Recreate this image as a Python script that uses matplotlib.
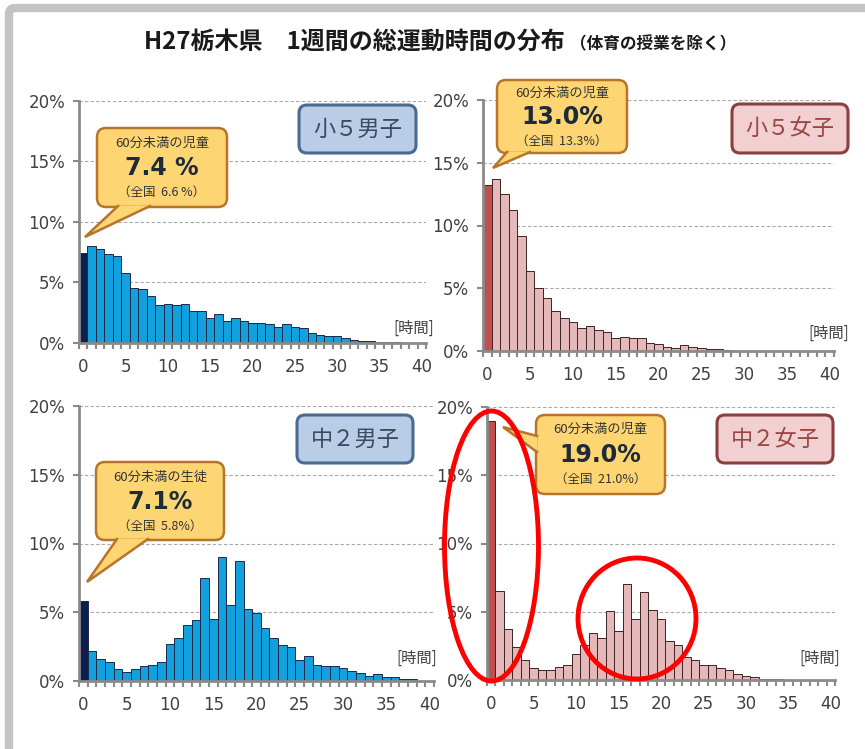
"""
H27 栃木県 1週間の総運動時間の分布 - 4 histogram panels
"""

import matplotlib
matplotlib.use("Agg")
import matplotlib.pyplot as plt
from matplotlib.patches import FancyBboxPatch, Polygon, Ellipse

plt.rcParams["font.family"] = ["Noto Sans CJK JP", "DejaVu Sans"]

# values in %, index = hours per week (0 = under 60 min)
boys5 = [7.4, 8.0, 7.75, 7.35, 7.15, 5.8, 4.55, 4.45, 3.85, 3.15, 3.2, 3.15, 3.2,
         2.65, 2.65, 2.1, 2.4, 1.8, 2.05, 1.8, 1.65, 1.65, 1.55, 1.35, 1.55, 1.3,
         1.2, 0.85, 0.7, 0.6, 0.6, 0.4, 0.25, 0.15, 0.15, 0.1, 0.1, 0.1]
girls5 = [13.2, 13.7, 12.5, 11.2, 9.2, 6.4, 5.0, 4.2, 3.15, 2.65, 2.3, 1.8, 2.0,
          1.7, 1.5, 1.0, 1.1, 1.0, 1.0, 0.6, 0.55, 0.35, 0.2, 0.45, 0.35, 0.25,
          0.12, 0.12, 0.1]
boys8 = [5.8, 2.15, 1.6, 1.4, 0.85, 0.65, 0.85, 1.1, 1.2, 1.4, 2.7, 3.1, 4.1,
         4.45, 7.5, 4.5, 9.0, 5.55, 8.7, 5.25, 4.95, 3.85, 3.1, 2.65, 2.45, 1.55,
         1.8, 1.2, 1.1, 1.1, 0.95, 0.7, 0.55, 0.4, 0.5, 0.3, 0.3, 0.15, 0.15]
girls8 = [19.0, 6.5, 3.75, 2.45, 1.5, 0.85, 0.7, 0.7, 0.95, 1.1, 1.9, 2.6, 3.45,
          3.1, 5.05, 3.6, 7.0, 4.45, 6.45, 5.15, 4.45, 2.85, 2.55, 1.7, 1.5, 1.1,
          1.1, 0.9, 0.75, 0.45, 0.3, 0.2, 0.1, 0.05, 0.1]

panel_names = ["小５男子", "小５女子", "中２男子", "中２女子"]
callout_heads = ["60分未満の児童", "60分未満の児童", "60分未満の生徒", "60分未満の児童"]
callout_values = ["7.4 %", "13.0%", "7.1%", "19.0%"]
callout_national = ["（全国  6.6 %）", "（全国  13.3%）", "（全国  5.8%）", "（全国  21.0%）"]

X_TICKS = [0, 5, 10, 15, 20, 25, 30, 35, 40]
Y_TICKS = [0, 5, 10, 15, 20]

BOY = dict(bar="#12a0de", first="#0c1f4e", edge="#1b2a48",
           box_fc="#b9cde6", box_ec="#4a6a91", txt="#3a4a60")
GIRL = dict(bar="#e5b8b9", first="#c0504d", edge="#3c2424",
            box_fc="#f2cfd0", box_ec="#8c3f3f", txt="#9a4646")

W, H = 865, 749

# axes rectangles in pixels: left, top, right, bottom
AX_PX = [(79, 101, 426, 343), (483, 100, 834, 351),
         (79, 406, 434, 681), (487, 407, 835, 680)]

# callouts in pixels: box (x0, y0, x1, y1), tip, base points, text rows
CALLOUTS = [
    dict(box=(97, 128, 227, 207), tip=(85, 237), base=[(150, 206), (118, 206)], rows=(143, 168, 192)),
    dict(box=(497, 80, 627, 153), tip=(493, 168), base=[(530, 152), (507, 152)], rows=(93, 117, 141)),
    dict(box=(96, 462, 224, 540), tip=(87, 582), base=[(148, 539), (117, 539)], rows=(477, 502, 526)),
    dict(box=(536, 415, 665, 494), tip=(503, 427), base=[(537, 436), (537, 452)], rows=(429, 455, 479)),
]
LABEL_BOXES = [(299, 105, 416, 153), (732, 104, 848, 153),
               (297, 415, 413, 463), (717, 415, 833, 463)]
TIME_LABELS = [(414, 328), (829, 333), (417, 658), (820, 658)]


def setup_axes(fig, rect_px):
    x0, y0, x1, y1 = rect_px
    ax = fig.add_axes([x0 / W, 1 - y1 / H, (x1 - x0) / W, (y1 - y0) / H])
    ax.set_xlim(-0.5, 40.5)
    ax.set_ylim(0, 20)
    for s in ["top", "right"]:
        ax.spines[s].set_visible(False)
    for s in ["left", "bottom"]:
        ax.spines[s].set_color("#8a8a8a")
        ax.spines[s].set_linewidth(2)
    ax.set_yticks(Y_TICKS)
    ax.set_yticklabels([f"{v}%" for v in Y_TICKS])
    ax.set_xticks(X_TICKS)
    ax.set_xticks([i - 0.5 for i in range(42)], minor=True)
    ax.tick_params(axis="x", which="major", length=0, pad=11)
    ax.tick_params(axis="x", which="minor", length=4, width=1.5, color="#8a8a8a")
    ax.tick_params(axis="y", length=4, width=1.5, color="#8a8a8a", pad=6)
    ax.tick_params(labelsize=12, labelcolor="#404040")
    for lab in ax.get_xticklabels() + ax.get_yticklabels():
        lab.set_family("DejaVu Sans")
    for v in Y_TICKS[1:]:
        ax.axhline(v, color="#a8a8a8", lw=0.8, ls=(0, (3, 2)), zorder=0)
    return ax


def draw_bars(ax, values, style):
    xs = list(range(len(values)))
    colors = [style["first"]] + [style["bar"]] * (len(values) - 1)
    ax.bar(xs, values, width=1.0, color=colors, edgecolor=style["edge"],
           linewidth=0.7, zorder=2)


def draw_callout(ov, c, head, value, national):
    x0, y0, x1, y1 = c["box"]
    fc, ec = "#fdd673", "#b8742a"
    (bx1, by1), (bx2, by2) = c["base"]
    tx, ty = c["tip"]
    ov.add_patch(FancyBboxPatch((x0, y0), x1 - x0, y1 - y0,
                                boxstyle="round,pad=0,rounding_size=9",
                                fc=fc, ec=ec, lw=1.8, zorder=6))
    # pointer, drawn over the box edge where it joins
    ov.add_patch(Polygon([(bx1, by1), (tx, ty), (bx2, by2)], closed=True,
                         fc=fc, ec="none", zorder=7))
    ov.plot([bx1, tx, bx2], [by1, ty, by2], color=ec, lw=1.8, zorder=8,
            solid_joinstyle="miter")
    cx = (x0 + x1) / 2
    r1, r2, r3 = c["rows"]
    ov.text(cx, r1, head, ha="center", va="center", fontsize=9.5, color="#333333", zorder=9)
    ov.text(cx, r2, value, ha="center", va="center", fontsize=17, fontweight="bold",
            color="#1c2a3a", family=["DejaVu Sans", "Noto Sans CJK JP"], zorder=9)
    ov.text(cx, r3, national, ha="center", va="center", fontsize=9, color="#333333", zorder=9)


def main():
    fig = plt.figure(figsize=(W / 100, H / 100), dpi=100)

    datasets = [boys5, girls5, boys8, girls8]
    styles = [BOY, GIRL, BOY, GIRL]

    for rect, values, style in zip(AX_PX, datasets, styles):
        ax = setup_axes(fig, rect)
        draw_bars(ax, values, style)

    # overlay in pixel coordinates for annotations
    ov = fig.add_axes([0, 0, 1, 1], zorder=10)
    ov.set_xlim(0, W)
    ov.set_ylim(H, 0)
    ov.axis("off")
    ov.patch.set_alpha(0)

    # slide frame
    ov.add_patch(FancyBboxPatch((9, 8), W + 10, H + 10,
                                boxstyle="round,pad=0,rounding_size=6",
                                fc="none", ec="#c3c3c3", lw=6))

    ov.text(565, 42, "H27栃木県　1週間の総運動時間の分布", ha="right", va="center",
            fontsize=17.3, fontweight="bold", color="#1a1a1a")
    ov.text(570, 44, "（体育の授業を除く）", ha="left", va="center",
            fontsize=12, fontweight="bold", color="#1a1a1a")

    for i, style in enumerate(styles):
        x0, y0, x1, y1 = LABEL_BOXES[i]
        ov.add_patch(FancyBboxPatch((x0, y0), x1 - x0, y1 - y0,
                                    boxstyle="round,pad=0,rounding_size=8",
                                    fc=style["box_fc"], ec=style["box_ec"], lw=2.2, zorder=4))
        ov.text((x0 + x1) / 2, (y0 + y1) / 2, panel_names[i], ha="center", va="center",
                fontsize=16, color=style["txt"], zorder=5)
        tx, ty = TIME_LABELS[i]
        ov.text(tx, ty, "[時間]", ha="center", va="center", fontsize=11, color="#404040")
        draw_callout(ov, CALLOUTS[i], callout_heads[i], callout_values[i], callout_national[i])

    # red highlight circles on 中2女子
    ov.add_patch(Ellipse((491.5, 546), 94, 270, fc="none", ec="#ff0000", lw=3.5, zorder=12))
    ov.add_patch(Ellipse((637, 618.5), 118, 121, fc="none", ec="#ff0000", lw=3.5, zorder=12))

    fig.savefig("out.png", dpi=100)
    plt.close(fig)


if __name__ == "__main__":
    main()
